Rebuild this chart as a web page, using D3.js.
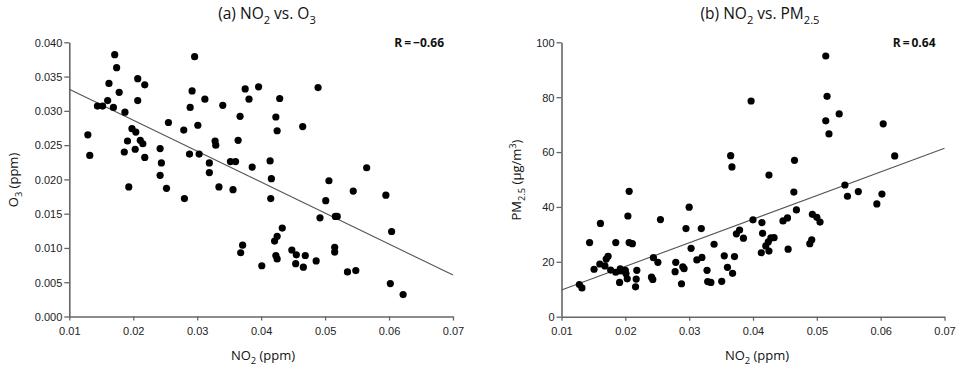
<!DOCTYPE html>
<html>
<head>
<meta charset="utf-8">
<script src="https://cdn.jsdelivr.net/npm/d3@7"></script>
<style>
  html, body { margin: 0; padding: 0; background: #fff; }
  svg { display: block; }
  .tick text { font-family: "Liberation Sans Narrow", "Arial Narrow", "Liberation Sans", sans-serif; font-size: 11px; fill: #222; }
  .ttl { font-family: "Open Sans", "Noto Sans", sans-serif; font-size: 15.5px; fill: #111; }
  .lbl { font-family: "Open Sans", "Noto Sans", sans-serif; font-size: 13px; fill: #111; }
  .rlab { font-family: "Open Sans", "Noto Sans", sans-serif; font-size: 12px; font-weight: bold; fill: #111; }
</style>
</head>
<body>
<svg id="chart" width="959" height="371"></svg>
<script>
// ---- Data ----
const no2_a = [0.0129,0.0132,0.0171,0.0174,0.0162,0.0178,0.0160,0.0144,0.0152,0.0169,0.0187,0.0207,0.0218,0.0207,0.0198,0.0204,0.0191,0.0211,0.0215,0.0186,0.0203,0.0218,0.0242,0.0244,0.0242,0.0255,0.0279,0.0296,0.0292,0.0289,0.0312,0.0301,0.0288,0.0303,0.0328,0.0329,0.0340,0.0319,0.0319,0.0352,0.0360,0.0364,0.0367,0.0375,0.0381,0.0386,0.0396,0.0423,0.0429,0.0425,0.0414,0.0416,0.0465,0.0489,0.0565,0.0506,0.0193,0.0252,0.0280,0.0334,0.0356,0.0371,0.0368,0.0401,0.0415,0.0501,0.0492,0.0516,0.0519,0.0544,0.0595,0.0604,0.0433,0.0425,0.0421,0.0448,0.0423,0.0425,0.0455,0.0469,0.0454,0.0466,0.0515,0.0515,0.0486,0.0535,0.0548,0.0602,0.0622];
const o3 = [0.0265,0.0235,0.0382,0.0363,0.0340,0.0327,0.0315,0.0307,0.0307,0.0305,0.0298,0.0347,0.0338,0.0315,0.0274,0.0269,0.0256,0.0257,0.0252,0.0240,0.0244,0.0232,0.0245,0.0224,0.0206,0.0283,0.0272,0.0379,0.0329,0.0305,0.0317,0.0279,0.0237,0.0237,0.0256,0.0250,0.0308,0.0224,0.0210,0.0226,0.0226,0.0257,0.0292,0.0332,0.0317,0.0218,0.0335,0.0291,0.0318,0.0271,0.0227,0.0201,0.0277,0.0334,0.0217,0.0198,0.0189,0.0187,0.0172,0.0189,0.0185,0.0104,0.0093,0.0074,0.0172,0.0169,0.0144,0.0146,0.0146,0.0183,0.0177,0.0124,0.0129,0.0117,0.0110,0.0097,0.0089,0.0084,0.0090,0.0089,0.0077,0.0072,0.0101,0.0094,0.0081,0.0065,0.0067,0.0048,0.0032];

const no2_b = [0.0365,0.0367,0.0514,0.0397,0.0516,0.0535,0.0514,0.0519,0.0604,0.0465,0.0425,0.0622,0.0128,0.0132,0.0144,0.0161,0.0151,0.0160,0.0168,0.0170,0.0173,0.0177,0.0185,0.0185,0.0192,0.0193,0.0191,0.0200,0.0201,0.0203,0.0206,0.0204,0.0206,0.0211,0.0218,0.0217,0.0216,0.0241,0.0243,0.0244,0.0251,0.0255,0.0278,0.0279,0.0288,0.0290,0.0292,0.0295,0.0300,0.0303,0.0312,0.0320,0.0319,0.0328,0.0334,0.0329,0.0339,0.0351,0.0355,0.0360,0.0368,0.0371,0.0374,0.0379,0.0385,0.0400,0.0414,0.0415,0.0413,0.0420,0.0424,0.0428,0.0433,0.0425,0.0455,0.0447,0.0454,0.0464,0.0468,0.0489,0.0492,0.0493,0.0500,0.0505,0.0544,0.0548,0.0565,0.0594,0.0602];
const pm25 = [58.7,54.6,95.0,78.6,80.3,73.9,71.4,66.6,70.3,57.0,51.6,58.6,11.7,10.5,27.0,34.0,17.3,19.2,18.5,21.0,22.0,17.0,27.0,16.2,17.4,16.7,12.5,16.9,15.7,13.8,45.7,36.7,27.0,26.6,16.9,13.7,10.9,14.4,13.6,21.5,19.8,35.4,16.4,19.8,12.0,18.2,17.5,32.1,39.9,24.9,20.7,21.6,32.1,16.9,12.5,12.8,26.4,12.9,22.2,18.0,15.8,21.9,30.2,31.6,28.6,35.3,34.3,30.4,23.3,25.8,27.3,28.7,28.8,23.9,24.6,34.9,36.0,45.4,38.9,26.6,28.0,37.3,36.2,34.5,48.0,43.9,45.6,41.1,44.7];

// fitted lines: values at x = 0.01 and x = 0.07
const fitX = [0.01, 0.07];
const fitA = [0.03315, 0.00605];
const fitB = [9.7, 61.4];

const xTicks = [0.01, 0.02, 0.03, 0.04, 0.05, 0.06, 0.07];
const yTicksA = [0, 0.005, 0.01, 0.015, 0.02, 0.025, 0.03, 0.035, 0.04];
const yTicksB = [0, 20, 40, 60, 80, 100];
const rLabels = ["R\u2009=\u2009\u22120.66", "R\u2009=\u20090.64"];

// ---- Drawing ----
const svg = d3.select("#chart");

function panel(opts) {
  const g = svg.append("g");
  const x = d3.scaleLinear().domain([0.01, 0.07]).range([opts.x0, opts.x1]);
  const y = d3.scaleLinear().domain(opts.yDomain).range([opts.yBottom, opts.yTop]);

  const xAxis = d3.axisBottom(x).tickValues(xTicks).tickFormat(d3.format(".2f")).tickSize(4).tickSizeOuter(0);
  const yAxis = d3.axisLeft(y).tickValues(opts.yTicks).tickFormat(opts.yFmt).tickSize(5).tickSizeOuter(0);

  const gx = g.append("g").attr("transform", `translate(0,${opts.yBottom})`).call(xAxis);
  const gy = g.append("g").attr("transform", `translate(${opts.x0},0)`).call(yAxis);
  [gx, gy].forEach(a => {
    a.select(".domain").attr("stroke", "#666").attr("stroke-width", 1.6);
    a.selectAll(".tick line").attr("stroke", "#666").attr("stroke-width", 1.3);
  });
  gx.selectAll(".tick text").attr("dy", "1.05em");
  gy.selectAll(".tick text").attr("x", -7).attr("dy", "0.35em");

  // regression line
  g.append("line")
    .attr("x1", x(fitX[0])).attr("y1", y(opts.fit[0]))
    .attr("x2", x(fitX[1])).attr("y2", y(opts.fit[1]))
    .attr("stroke", "#555").attr("stroke-width", 1.1);

  // points
  g.append("g").selectAll("circle")
    .data(opts.xs.map((v, i) => [v, opts.ys[i]]))
    .join("circle")
    .attr("cx", d => x(d[0])).attr("cy", d => y(d[1]))
    .attr("r", 3.6).attr("fill", "#000");

  // R label
  g.append("text").attr("class", "rlab")
    .attr("x", opts.x1 - 9).attr("y", 47).attr("text-anchor", "end")
    .text(opts.rLabel);

  return { x, y, g };
}

panel({ x0: 69.3, x1: 453, yTop: 42.3, yBottom: 316.5, yDomain: [0, 0.04],
  yTicks: yTicksA, yFmt: d3.format(".3f"), xs: no2_a, ys: o3, fit: fitA, rLabel: rLabels[0] });
panel({ x0: 561.5, x1: 944.5, yTop: 42.3, yBottom: 316.7, yDomain: [0, 100],
  yTicks: yTicksB, yFmt: d3.format("d"), xs: no2_b, ys: pm25, fit: fitB, rLabel: rLabels[1] });

// Titles and axis labels with sub/superscripts.
// parts: {t: text, shift: baseline offset in em (positive = down), small: bool}
function richText(cls, x, y, parts, rotate) {
  const t = svg.append("text").attr("class", cls).attr("text-anchor", "middle");
  if (rotate) t.attr("transform", `translate(${x},${y}) rotate(-90)`);
  else t.attr("x", x).attr("y", y);
  let cur = 0;
  parts.forEach(p => {
    const target = p.shift || 0;
    const s = t.append("tspan").text(p.t);
    if (p.small) s.attr("font-size", "0.72em");
    const fs = p.small ? 0.72 : 1;
    const dy = (target - cur) / fs;
    if (dy !== 0) s.attr("dy", dy.toFixed(3) + "em");
    cur = target;
  });
  return t;
}

richText("ttl", 267, 19, [{t: "(a) NO"}, {t: "2", shift: 0.3, small: true}, {t: " vs. O"}, {t: "3", shift: 0.3, small: true}]);
richText("ttl", 760, 19, [{t: "(b) NO"}, {t: "2", shift: 0.3, small: true}, {t: " vs. PM"}, {t: "2.5", shift: 0.3, small: true}]);
richText("lbl", 263, 360, [{t: "NO"}, {t: "2", shift: 0.3, small: true}, {t: " (ppm)"}]);
richText("lbl", 757, 360, [{t: "NO"}, {t: "2", shift: 0.3, small: true}, {t: " (ppm)"}]);
richText("lbl", 18, 180, [{t: "O"}, {t: "3", shift: 0.3, small: true}, {t: " (ppm)"}], true);
richText("lbl", 521, 180, [{t: "PM"}, {t: "2.5", shift: 0.3, small: true}, {t: " (\u03bcg/m"}, {t: "3", shift: -0.4, small: true}, {t: ")"}], true);
</script>
</body>
</html>
